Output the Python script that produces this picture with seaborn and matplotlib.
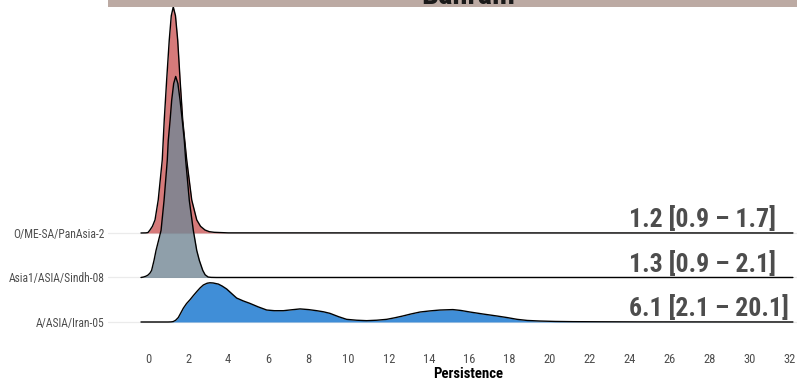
import matplotlib
matplotlib.use("Agg")
import matplotlib.pyplot as plt
from matplotlib import font_manager as fm
from matplotlib.patches import Rectangle
import seaborn as sns

# ---- data -------------------------------------------------------------
lineages = ["A/ASIA/Iran-05", "Asia1/ASIA/Sindh-08", "O/ME-SA/PanAsia-2"]

# persistence density curves (x, density) for each lineage
iran_x = [-0.35, 1.0, 1.15, 1.26, 1.38, 1.51, 1.63, 1.76, 1.92, 2.09, 2.26, 2.43, 2.6,
          2.76, 2.95, 3.09, 3.25, 3.51, 3.7, 3.92, 4.15, 4.42, 4.75, 5.08, 5.5, 5.92,
          6.3, 6.75, 7.15, 7.58, 8.0, 8.41, 8.75, 9.07, 9.5, 9.9, 10.4, 10.9, 11.4,
          11.9, 12.3, 12.7, 13.1, 13.56, 14.05, 14.55, 15.2, 15.6, 16.05, 16.7, 17.4,
          17.9, 18.4, 18.9, 19.5, 20.3, 21.2, 22.5, 24.5, 32.15]
iran_d = [0, 0, 0.0005, 0.002, 0.008, 0.02, 0.04, 0.062, 0.083, 0.1, 0.119, 0.137, 0.154,
          0.167, 0.175, 0.177, 0.176, 0.171, 0.162, 0.149, 0.13, 0.108, 0.095, 0.084, 0.068, 0.054,
          0.051, 0.051, 0.055, 0.059, 0.056, 0.051, 0.046, 0.039, 0.024, 0.012, 0.008, 0.006, 0.008,
          0.012, 0.019, 0.027, 0.036, 0.045, 0.05, 0.054, 0.056, 0.052, 0.045, 0.036, 0.027,
          0.02, 0.012, 0.007, 0.0045, 0.0025, 0.0015, 0.001, 0.0005, 0]

sindh_x = [-0.35, -0.23, -0.1, 0.0, 0.10, 0.18, 0.30, 0.40, 0.52, 0.65, 0.80, 0.96, 1.01,
           1.10, 1.18, 1.28, 1.38, 1.49, 1.60, 1.71, 1.81, 1.88, 2.06, 2.26, 2.43, 2.56,
           2.73, 2.85, 3.0, 3.15, 3.4, 32.15]
sindh_d = [0, 0.002, 0.006, 0.011, 0.02, 0.032, 0.077, 0.122, 0.165, 0.212, 0.347, 0.528, 0.618,
           0.708, 0.799, 0.875, 0.907, 0.875, 0.799, 0.708, 0.618, 0.528, 0.347, 0.212, 0.122, 0.077,
           0.032, 0.012, 0.002, 0.0005, 0, 0]

panasia_x = [-0.35, -0.1, 0.0, 0.10, 0.22, 0.35, 0.51, 0.71, 0.81, 0.93, 1.06, 1.16, 1.26,
             1.37, 1.48, 1.60, 1.73, 1.93, 2.18, 2.43, 2.62, 2.84, 3.05, 3.3, 4.0, 32.15]
panasia_d = [0, 0.0005, 0.002, 0.0135, 0.03, 0.059, 0.149, 0.329, 0.510, 0.690, 0.871, 0.98, 1.02,
             0.98, 0.871, 0.690, 0.510, 0.329, 0.149, 0.059, 0.03, 0.0135, 0.006, 0.003, 0.0005, 0]

# median persistence and 95% interval per lineage
medians = [6.1, 1.3, 1.2]
lower = [2.1, 0.9, 0.9]
upper = [20.1, 2.1, 1.7]

x_ticks = list(range(0, 33, 2))
country = "Bahrain"

# ---- style --------------------------------------------------------------
sns.set_theme(style="white")
available = {f.name for f in fm.fontManager.ttflist}


def pick(*names):
    for n in names:
        if n in available:
            return n
    return "DejaVu Sans"


narrow = pick("Roboto Condensed", "Liberation Sans Narrow", "Roboto")
plt.rcParams["font.family"] = [narrow, "DejaVu Sans"]

fills = ["#1072ce", "#738795", "#cc5959"]
curves = [(iran_x, iran_d), (sindh_x, sindh_d), (panasia_x, panasia_d)]
scale = 4.98  # ridge height per unit of density

W, H = 797, 381
fig = plt.figure(figsize=(W / 100, H / 100), dpi=100)
left_px, right_px, top_px, bottom_px = 108, 828, 6, 348.7
ax = fig.add_axes([left_px / W, 1 - bottom_px / H,
                   (right_px - left_px) / W, (bottom_px - top_px) / H])

# faint guide lines at each ridge baseline
for i in range(len(lineages)):
    ax.axhline(i + 1, color="#ebebeb", lw=0.9, zorder=0)

# ridges: drawn from the top row down so lower ridges overlay upper ones
for i in reversed(range(len(lineages))):
    xs, ds = curves[i]
    base = i + 1
    ys = [base + d * scale for d in ds]
    ax.fill_between(xs, base, ys, color=fills[i], alpha=0.8, lw=0, zorder=2 + (2 - i))
    sns.lineplot(x=xs, y=ys, color="black", lw=1.0, sort=False, estimator=None,
                 ax=ax, zorder=2.5 + (2 - i))

# median [95% interval] labels
for i in range(len(lineages)):
    ax.text(24, i + 1 + 0.13, f"{medians[i]:.1f} [{lower[i]:.1f} \u2013 {upper[i]:.1f}]",
            ha="left", va="baseline", fontsize=18.6, fontweight="bold",
            color="#4d4d4d", zorder=10)

ax.set_xlim((left_px - 148) / 20.06, (right_px - 148) / 20.06)
ax.set_ylim(0.4, 8.10)
ax.set_xticks(x_ticks)
ax.set_xticklabels([str(t) for t in x_ticks])
ax.set_yticks([1, 2, 3])
ax.set_yticklabels(lineages)
ax.tick_params(axis="both", length=0, colors="#4d4d4d")
ax.tick_params(axis="x", labelsize=9, pad=3)
ax.tick_params(axis="y", labelsize=8.3, pad=2.5)
for s in ax.spines.values():
    s.set_visible(False)
ax.set_xlabel("Persistence", fontsize=10.6, fontweight="bold", color="black", labelpad=1)
ax.set_ylabel("")

# facet strip with the country name
fig.patches.append(Rectangle((left_px / W, 1 - 6.5 / H), (right_px - left_px) / W, 20 / H,
                             transform=fig.transFigure, facecolor="#bcaaa3",
                             edgecolor="none", zorder=0))
fig.text((left_px + right_px) / 2 / W, 1 - 3.5 / H, country, ha="center", va="baseline",
         fontsize=22, fontweight="bold", color="#1a1a1a")

fig.savefig("out.png", dpi=100)
